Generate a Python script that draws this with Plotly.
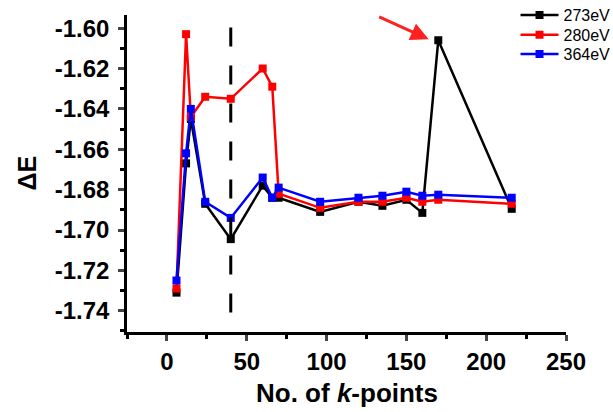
import plotly.graph_objects as go

kpoints = [6, 12, 15, 24, 40, 60, 66, 70, 96, 120, 135, 150, 160, 170, 216]
e_273 = [-1.731, -1.667, -1.645, -1.687, -1.7045, -1.678, -1.684, -1.684, -1.691, -1.686, -1.688, -1.685, -1.6915, -1.606, -1.6895]
e_280 = [-1.729, -1.603, -1.644, -1.634, -1.635, -1.620, -1.629, -1.682, -1.689, -1.686, -1.686, -1.684, -1.686, -1.685, -1.687]
e_364 = [-1.725, -1.662, -1.640, -1.686, -1.694, -1.674, -1.684, -1.679, -1.686, -1.684, -1.683, -1.681, -1.683, -1.6825, -1.684]
series_names = ["273eV", "280eV", "364eV"]
series_colors = ["#000000", "#ff0000", "#0000ff"]
dash_x = 40
x_ticks = [0, 50, 100, 150, 200, 250]
y_ticks = [-1.74, -1.72, -1.70, -1.68, -1.66, -1.64, -1.62, -1.60]

FONT = "Liberation Sans, Arial, sans-serif"
legend_ids = ["legend", "legend2", "legend3"]
legend_rows = [1.0, 0.937, 0.877]

fig = go.Figure()
for name, ys, col, lid in zip(series_names, [e_273, e_280, e_364], series_colors, legend_ids):
    fig.add_trace(go.Scatter(
        x=kpoints, y=ys, name=name, mode="lines+markers",
        line=dict(color=col, width=2.5),
        marker=dict(symbol="square", size=8, color=col),
        legend=lid,
    ))

fig.add_shape(type="line", xref="x", yref="y", x0=dash_x, x1=dash_x,
              y0=-1.7408, y1=-1.5965,
              line=dict(color="black", width=3, dash="19px,19px"))

fig.add_annotation(x=164, y=-1.6055, xref="x", yref="y", ax=-51, ay=-23,
                   showarrow=True, arrowhead=2, arrowsize=1.2, arrowwidth=3,
                   arrowcolor="#ff2020", text="")

legend_style = dict(xanchor="left", yanchor="middle", x=0.885,
                    font=dict(family=FONT, size=16, color="black"),
                    bgcolor="rgba(0,0,0,0)", itemwidth=38)

fig.update_layout(
    width=613, height=412,
    margin=dict(l=127, r=47, t=15, b=80, autoexpand=False),
    plot_bgcolor="white", paper_bgcolor="white",
    showlegend=True,
    legend=dict(y=legend_rows[0], **legend_style),
    legend2=dict(y=legend_rows[1], **legend_style),
    legend3=dict(y=legend_rows[2], **legend_style),
    font=dict(family=FONT, color="black"),
)

fig.update_xaxes(
    range=[-25, 250], tickvals=x_ticks, ticks="outside", ticklen=6, tickwidth=2.5,
    showline=True, linewidth=2.5, linecolor="black", showgrid=False, zeroline=False,
    tickfont=dict(family=FONT, size=24, color="black", weight="bold"),
    minor=dict(tickvals=[-25, 25, 75, 125, 175, 225], ticks="outside", ticklen=4, tickwidth=2.5, tickcolor="black"),
)
fig.update_yaxes(
    range=[-1.7505, -1.5935], tickvals=y_ticks, ticktext=[f"{v:.2f}" for v in y_ticks],
    ticks="outside", ticklen=6, tickwidth=2.5, ticklabelstandoff=4,
    showline=True, linewidth=2.5, linecolor="black", showgrid=False, zeroline=False,
    tickfont=dict(family=FONT, size=24, color="black", weight="bold"),
    minor=dict(tickvals=[-1.75, -1.73, -1.71, -1.69, -1.67, -1.65, -1.63, -1.61], ticks="outside", ticklen=4, tickwidth=2.5, tickcolor="black"),
)

fig.add_annotation(text="No. of <i>k</i>-points", xref="paper", yref="paper",
                   x=0.5, y=0, yshift=-61, showarrow=False, yanchor="middle",
                   font=dict(family=FONT, size=26, color="black", weight="bold"))
fig.add_annotation(text="ΔE", xref="paper", yref="paper",
                   x=0, y=0.5, xshift=-101, showarrow=False, textangle=-90, xanchor="center",
                   font=dict(family=FONT, size=25, color="black", weight="bold"))

fig.write_html("out.html")
